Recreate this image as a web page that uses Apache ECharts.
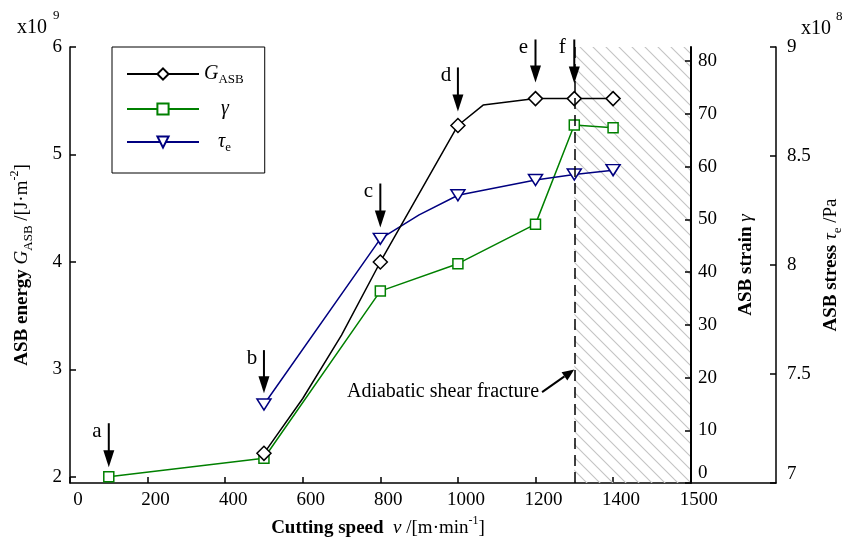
<!DOCTYPE html>
<html>
<head>
<meta charset="utf-8">
<title>ASB energy, strain and stress vs cutting speed</title>
<script src="https://cdn.jsdelivr.net/npm/echarts@6/dist/echarts.min.js"></script>
<style>
  html, body { margin: 0; padding: 0; background: #fff; }
  #main { width: 851px; height: 542px; }
</style>
</head>
<body>
<div id="main"></div>
<script>
// ---- data ----
var speedTicks = [0, 200, 400, 600, 800, 1000, 1200, 1400];
var speedLabelPos = [0, 200, 400, 600, 800, 1000, 1200, 1400, 1600];
var speedLabels = ['0', '200', '400', '600', '800', '1000', '1200', '1400', '1500'];
var energyTicks = [2, 3, 4, 5, 6];
var strainTicks = [0, 10, 20, 30, 40, 50, 60, 70, 80];

// G_ASB (x10^9 J/m^2), some vertices carry no marker
var gSpeed  = [500, 600, 700, 800, 1000, 1065, 1200, 1300, 1400];
var gEnergy = [2.22, 2.73, 3.32, 4.0, 5.27, 5.46, 5.52, 5.52, 5.52];
var gMarked = [true, false, false, true, true, false, true, true, true];

// shear strain gamma
var strainSpeed = [100, 500, 800, 1000, 1200, 1300, 1400];
var strainVal   = [1.2, 4.7, 36.4, 41.6, 49.1, 67.9, 67.4];

// shear stress tau_e (x10^8 Pa)
var stressSpeed  = [500, 800, 900, 1000, 1200, 1300, 1400];
var stressVal    = [7.36, 8.12, 8.23, 8.32, 8.39, 8.415, 8.435];
var stressMarked = [true, true, false, true, true, true, true];

// arrows a-f (speed, shaft top and tip in G units)
var arrowLetters = ['a', 'b', 'c', 'd', 'e', 'f'];
var arrowSpeed = [100, 500, 800, 1000, 1200, 1300];
var arrowTop   = [2.50, 3.18, 4.73, 5.81, 6.07, 6.07];
var arrowTip   = [2.09, 2.78, 4.32, 5.40, 5.67, 5.66];

var fractureSpeed = 1300;
var hatchEnd = 1600;

var serif = "'Liberation Serif', 'Times New Roman', serif";

// diagonal hatch tile
var hatch = document.createElement('canvas');
hatch.width = 13;
hatch.height = 13;
var hctx = hatch.getContext('2d');
hctx.strokeStyle = '#c4c4c4';
hctx.lineWidth = 1.1;
hctx.beginPath();
hctx.moveTo(0, 0); hctx.lineTo(13, 13);
hctx.moveTo(-6.5, 6.5); hctx.lineTo(6.5, 19.5);
hctx.moveTo(6.5, -6.5); hctx.lineTo(19.5, 6.5);
hctx.stroke();

var nameRich = {
  b: { fontFamily: serif, fontSize: 19, fontWeight: 'bold', color: '#000', lineHeight: 26 },
  i: { fontFamily: serif, fontSize: 19, fontStyle: 'italic', color: '#000', lineHeight: 26 },
  n: { fontFamily: serif, fontSize: 19, color: '#000', lineHeight: 26 },
  s: { fontFamily: serif, fontSize: 13, color: '#000', verticalAlign: 'bottom', lineHeight: 15 },
  p: { fontFamily: serif, fontSize: 12, color: '#000', verticalAlign: 'top', lineHeight: 14 }
};

var axisLineStyle = { color: '#000', width: 1.5 };

function shiftUp(v) {
  return '{z|' + v + '}';
}

var chartDom = document.getElementById('main');
var myChart = echarts.init(chartDom);

var option = {
  animation: false,
  grid: { left: 70, right: 75, top: 47, bottom: 59, outerBoundsMode: 'none' },
  legend: {
    orient: 'vertical',
    left: 112,
    top: 47,
    padding: [17, 21, 19, 14],
    itemWidth: 72,
    itemHeight: 14,
    itemGap: 13,
    itemTextGap: 11,
    borderColor: '#000',
    borderWidth: 1,
    selectedMode: false,
    data: ['G', 'gamma', 'tau'],
    formatter: function (name) {
      if (name === 'G') return '{i|G}{s|ASB}';
      if (name === 'gamma') return '{g|γ}';
      return '{t|τ}{s|e}';
    },
    textStyle: {
      fontFamily: serif,
      fontSize: 20,
      color: '#000',
      rich: {
        i: { fontFamily: serif, fontSize: 20, fontStyle: 'italic', lineHeight: 24 },
        g: { fontFamily: serif, fontSize: 20, fontStyle: 'italic', lineHeight: 24, padding: [0, 0, 0, 17] },
        t: { fontFamily: serif, fontSize: 20, fontStyle: 'italic', lineHeight: 24, padding: [0, 0, 0, 14] },
        s: { fontFamily: serif, fontSize: 13, verticalAlign: 'bottom', lineHeight: 15 }
      }
    }
  },
  xAxis: {
    type: 'value',
    min: 0,
    max: 1820,
    name: '{b|Cutting speed  }{i|v}{n| /[m·min}{p|-1}{n|]}',
    nameLocation: 'middle',
    nameGap: 27,
    nameTextStyle: { rich: nameRich, padding: [0, 90, 0, 0] },
    axisLine: { onZero: false, lineStyle: axisLineStyle },
    axisTick: { inside: true, length: 6, customValues: speedTicks, lineStyle: axisLineStyle },
    axisLabel: {
      customValues: speedLabelPos,
      margin: 8,
      padding: [0, 0, 0, 16],
      formatter: function (v) { return speedLabels[speedLabelPos.indexOf(v)]; },
      fontFamily: serif, fontSize: 19, color: '#000'
    },
    splitLine: { show: false }
  },
  yAxis: [
    {
      type: 'value',
      position: 'left',
      min: 1.944,
      max: 6,
      name: '{b|ASB energy }{i|G}{s|ASB}{n| /[J·m}{p|-2}{n|]}',
      nameLocation: 'middle',
      nameRotate: 90,
      nameGap: 35,
      nameTextStyle: { rich: nameRich },
      axisLine: { show: true, lineStyle: axisLineStyle },
      axisTick: { inside: true, length: 6, customValues: energyTicks, lineStyle: axisLineStyle },
      axisLabel: { customValues: energyTicks, margin: 8, fontFamily: serif, fontSize: 19, color: '#000' },
      splitLine: { show: false }
    },
    {
      type: 'value',
      position: 'right',
      offset: -85,
      z: 6,
      min: 0,
      max: 82.7,
      name: '{b|ASB strain }{i|γ}',
      nameLocation: 'middle',
      nameRotate: 90,
      nameGap: 42,
      nameTextStyle: { rich: nameRich },
      axisLine: { show: true, lineStyle: { color: '#000', width: 2 } },
      axisTick: { inside: true, length: 6, customValues: strainTicks, lineStyle: axisLineStyle },
      axisLabel: {
        customValues: strainTicks,
        margin: 7,
        formatter: function (v) { return v === 0 ? shiftUp(v) : String(v); },
        fontFamily: serif, fontSize: 19, color: '#000',
        rich: { z: { fontFamily: serif, fontSize: 19, color: '#000', padding: [0, 0, 20, 0] } }
      },
      splitLine: { show: false }
    },
    {
      type: 'value',
      position: 'right',
      offset: 0,
      min: 7,
      max: 9,
      interval: 0.5,
      name: '{b|ASB stress }{i|τ}{s|e}{n| /Pa}',
      nameLocation: 'middle',
      nameRotate: 90,
      nameGap: 42,
      nameTextStyle: { rich: nameRich },
      axisLine: { show: true, lineStyle: axisLineStyle },
      axisTick: { inside: true, length: 6, lineStyle: axisLineStyle },
      axisLabel: {
        margin: 11,
        formatter: function (v) { return v === 7 ? shiftUp(v) : String(v); },
        fontFamily: serif, fontSize: 19, color: '#000',
        rich: { z: { fontFamily: serif, fontSize: 19, color: '#000', padding: [0, 0, 18, 0] } }
      },
      splitLine: { show: false }
    }
  ],
  graphic: [
    { type: 'text', left: 17, top: 18, style: { text: 'x10', fontFamily: serif, fontSize: 20, fill: '#000' } },
    { type: 'text', left: 53, top: 9, style: { text: '9', fontFamily: serif, fontSize: 13, fill: '#000' } },
    { type: 'text', left: 801, top: 19, style: { text: 'x10', fontFamily: serif, fontSize: 20, fill: '#000' } },
    { type: 'text', left: 836, top: 10, style: { text: '8', fontFamily: serif, fontSize: 13, fill: '#000' } }
  ],
  series: [
    {
      name: 'G',
      type: 'line',
      yAxisIndex: 0,
      z: 4,
      data: gSpeed.map(function (s, i) {
        return { value: [s, gEnergy[i]], symbol: gMarked[i] ? 'diamond' : 'none' };
      }),
      symbol: 'diamond',
      symbolSize: 14,
      showAllSymbol: true,
      lineStyle: { color: '#000', width: 1.5 },
      itemStyle: { color: '#fff', borderColor: '#000', borderWidth: 1.5 },
      emphasis: { disabled: true },
      markArea: {
        silent: true,
        itemStyle: { color: { image: hatch, repeat: 'repeat' } },
        data: [[{ xAxis: fractureSpeed }, { xAxis: hatchEnd }]]
      },
      markLine: {
        silent: true,
        symbol: 'none',
        label: { show: false },
        lineStyle: { color: '#000', width: 1.5, type: [11, 6] },
        emphasis: { disabled: true },
        data: [{ xAxis: fractureSpeed }]
      }
    },
    {
      name: 'gamma',
      type: 'line',
      yAxisIndex: 1,
      z: 3,
      data: strainSpeed.map(function (s, i) { return [s, strainVal[i]]; }),
      symbol: 'rect',
      symbolSize: 10,
      showAllSymbol: true,
      lineStyle: { color: '#008000', width: 1.5 },
      itemStyle: { color: '#fff', borderColor: '#008000', borderWidth: 1.5 },
      emphasis: { disabled: true }
    },
    {
      name: 'tau',
      type: 'line',
      yAxisIndex: 2,
      z: 3,
      data: stressSpeed.map(function (s, i) {
        return { value: [s, stressVal[i]], symbol: stressMarked[i] ? 'triangle' : 'none' };
      }),
      symbol: 'triangle',
      symbolRotate: 180,
      symbolSize: [14, 11],
      showAllSymbol: true,
      lineStyle: { color: '#000080', width: 1.5 },
      itemStyle: { color: '#fff', borderColor: '#000080', borderWidth: 1.5 },
      emphasis: { disabled: true }
    },
    {
      name: 'arrows',
      type: 'custom',
      yAxisIndex: 0,
      silent: true,
      z: 10,
      clip: false,
      data: arrowSpeed.map(function (s, i) { return [s, arrowTop[i], arrowTip[i], i]; }),
      renderItem: function (params, api) {
        var top = api.coord([api.value(0), api.value(1)]);
        var tip = api.coord([api.value(0), api.value(2)]);
        var letter = arrowLetters[api.value(3)];
        return {
          type: 'group',
          children: [
            { type: 'line', shape: { x1: top[0], y1: top[1], x2: tip[0], y2: tip[1] - 12 },
              style: { stroke: '#000', lineWidth: 2 } },
            { type: 'polygon', shape: { points: [[tip[0] - 5.5, tip[1] - 17], [tip[0] + 5.5, tip[1] - 17], [tip[0], tip[1]]] },
              style: { fill: '#000' } },
            { type: 'text', style: { text: letter, x: top[0] - 12, y: top[1] + 8, fontFamily: serif, fontSize: 21,
              fill: '#000', align: 'center', verticalAlign: 'middle' } }
          ]
        };
      }
    },
    {
      name: 'fracture note',
      type: 'custom',
      yAxisIndex: 0,
      silent: true,
      z: 10,
      clip: false,
      data: [[fractureSpeed, 3.0, 1217, 2.79]],
      renderItem: function (params, api) {
        var tip = api.coord([api.value(0), api.value(1)]);
        var tail = api.coord([api.value(2), api.value(3)]);
        var dx = tip[0] - tail[0], dy = tip[1] - tail[1];
        var len = Math.sqrt(dx * dx + dy * dy);
        var ux = dx / len, uy = dy / len;
        var bx = tip[0] - ux * 12, by = tip[1] - uy * 12;
        return {
          type: 'group',
          children: [
            { type: 'line', shape: { x1: tail[0], y1: tail[1], x2: bx, y2: by },
              style: { stroke: '#000', lineWidth: 2 } },
            { type: 'polygon', shape: { points: [[bx - uy * 5, by + ux * 5], [bx + uy * 5, by - ux * 5], [tip[0], tip[1]]] },
              style: { fill: '#000' } },
            { type: 'text', style: { text: 'Adiabatic shear fracture', x: tail[0] - 3, y: tail[1], fontFamily: serif,
              fontSize: 20, fill: '#000', align: 'right', verticalAlign: 'middle' } }
          ]
        };
      }
    }
  ]
};

myChart.setOption(option);

window.addEventListener('resize', function () { myChart.resize(); });
</script>
</body>
</html>
